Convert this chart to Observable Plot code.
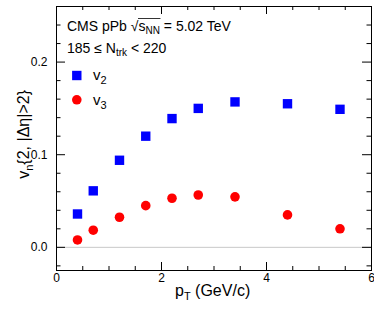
<!DOCTYPE html>
<html><head><meta charset="utf-8">
<script src="https://cdn.jsdelivr.net/npm/d3@7"></script>
<script src="https://cdn.jsdelivr.net/npm/@observablehq/plot@0.6"></script>
<style>body{margin:0;background:#fff} svg{display:block}</style>
</head><body><div id="chart"></div>
<script>
const pT = [0.4, 0.7, 1.2, 1.7, 2.2, 2.7, 3.4, 4.4, 5.4];
const v2 = [0.036, 0.061, 0.094, 0.120, 0.139, 0.150, 0.157, 0.155, 0.149];
const v3 = [0.008, 0.0185, 0.0325, 0.045, 0.053, 0.0565, 0.0545, 0.035, 0.020];
const xMajor = [0, 2, 4, 6];
const xMinor = [0.5, 1, 1.5, 2.5, 3, 3.5, 4.5, 5, 5.5];
const yMajor = [0, 0.1, 0.2];
const yMinor = [-0.02, 0.02, 0.04, 0.06, 0.08, 0.12, 0.14, 0.16, 0.18, 0.22, 0.24];

const W = 374, H = 311, mL = 56, mR = 3, mT = 6, mB = 41;
const iw = W - mL - mR, ih = H - mT - mB;
const font = "Liberation Sans, Arial, Helvetica, sans-serif";

const d2 = pT.map((x, i) => ({x, y: v2[i]}));
const d3d = pT.map((x, i) => ({x, y: v3[i]}));

const chart = Plot.plot({
  width: W, height: H,
  marginLeft: mL, marginRight: mR, marginTop: mT, marginBottom: mB,
  style: {fontFamily: font, background: "#fff"},
  x: {domain: [0, 6]},
  y: {domain: [-0.025, 0.26]},
  marks: [
    Plot.ruleY([0], {stroke: "#c8c8c8", strokeWidth: 1}),
    Plot.ruleY(yMajor, {insetRight: iw - 9, stroke: "#000"}),
    Plot.ruleY(yMajor, {insetLeft: iw - 9, stroke: "#000"}),
    Plot.ruleY(yMinor, {insetRight: iw - 4.5, stroke: "#000"}),
    Plot.ruleY(yMinor, {insetLeft: iw - 4.5, stroke: "#000"}),
    Plot.ruleX(xMajor, {insetTop: ih - 8, stroke: "#000"}),
    Plot.ruleX(xMajor, {insetBottom: ih - 8, stroke: "#000"}),
    Plot.ruleX(xMinor, {insetTop: ih - 4, stroke: "#000"}),
    Plot.ruleX(xMinor, {insetBottom: ih - 4, stroke: "#000"}),
    Plot.frame({stroke: "#000"}),
    Plot.axisY(yMajor, {tickSize: 0, tickPadding: 9, tickFormat: d3.format(".1f"), fontSize: 12, label: null, fill: "#000"}),
    Plot.axisX(xMajor, {tickSize: 0, tickPadding: 3, tickFormat: d3.format("d"), fontSize: 12, label: null, fill: "#000"}),
    Plot.dot(d2, {x: "x", y: "y", symbol: "square", r: 5.3, fill: "#0000ff", stroke: "none"}),
    Plot.dot(d3d, {x: "x", y: "y", symbol: "circle", r: 4.8, fill: "#ff0000", stroke: "none"}),
    Plot.dot([0], {x: null, y: null, frameAnchor: "top-left", dx: 20.3, dy: 69, symbol: "square", r: 5.3, fill: "#0000ff"}),
    Plot.dot([0], {x: null, y: null, frameAnchor: "top-left", dx: 20.3, dy: 93.3, symbol: "circle", r: 4.8, fill: "#ff0000"})
  ]
});
document.getElementById("chart").appendChild(chart);

const svg = d3.select(chart);
const g = svg.append("g").attr("font-family", font).attr("fill", "#000").attr("text-anchor", "start");

const t1 = g.append("text").attr("x", 67).attr("y", 30.5).attr("font-size", 14);
t1.append("tspan").text("CMS pPb ");
t1.append("tspan").text("√");
t1.append("tspan").text("s");
t1.append("tspan").attr("font-size", 10).attr("dy", 3).text("NN");
t1.append("tspan").attr("dy", -3).text(" = 5.02 TeV");
{
  const n = t1.node();
  const x0 = n.getStartPositionOfChar(9).x - 0.5;
  const x1 = n.getEndPositionOfChar(11).x + 0.5;
  g.append("line").attr("x1", x0).attr("x2", x1).attr("y1", 18.5).attr("y2", 18.5)
    .attr("stroke", "#000").attr("stroke-width", 0.8);
}
const t2 = g.append("text").attr("x", 67).attr("y", 53).attr("font-size", 14);
t2.append("tspan").text("185 ≤ N");
t2.append("tspan").attr("font-size", 10).attr("dy", 3).text("trk");
t2.append("tspan").attr("dy", -3).text(" < 220");

const l2 = g.append("text").attr("x", 93).attr("y", 80).attr("font-size", 15);
l2.append("tspan").text("v");
l2.append("tspan").attr("font-size", 11).attr("dy", 4).text("2");
const l3 = g.append("text").attr("x", 93).attr("y", 104.5).attr("font-size", 15);
l3.append("tspan").text("v");
l3.append("tspan").attr("font-size", 11).attr("dy", 4).text("3");

const xl = g.append("text").attr("x", 175).attr("y", 296).attr("font-size", 16);
xl.append("tspan").text("p");
xl.append("tspan").attr("font-size", 11).attr("dy", 4).text("T");
xl.append("tspan").attr("dy", -4).text(" (GeV/c)");

const yl = g.append("text").attr("transform", "translate(29,90) rotate(-90)")
  .attr("font-size", 16).attr("text-anchor", "end");
yl.append("tspan").text("v");
yl.append("tspan").attr("font-size", 11).attr("dy", 4).text("n");
yl.append("tspan").attr("dy", -4).text("{2, |Δη|>2}");
</script>
</body></html>
